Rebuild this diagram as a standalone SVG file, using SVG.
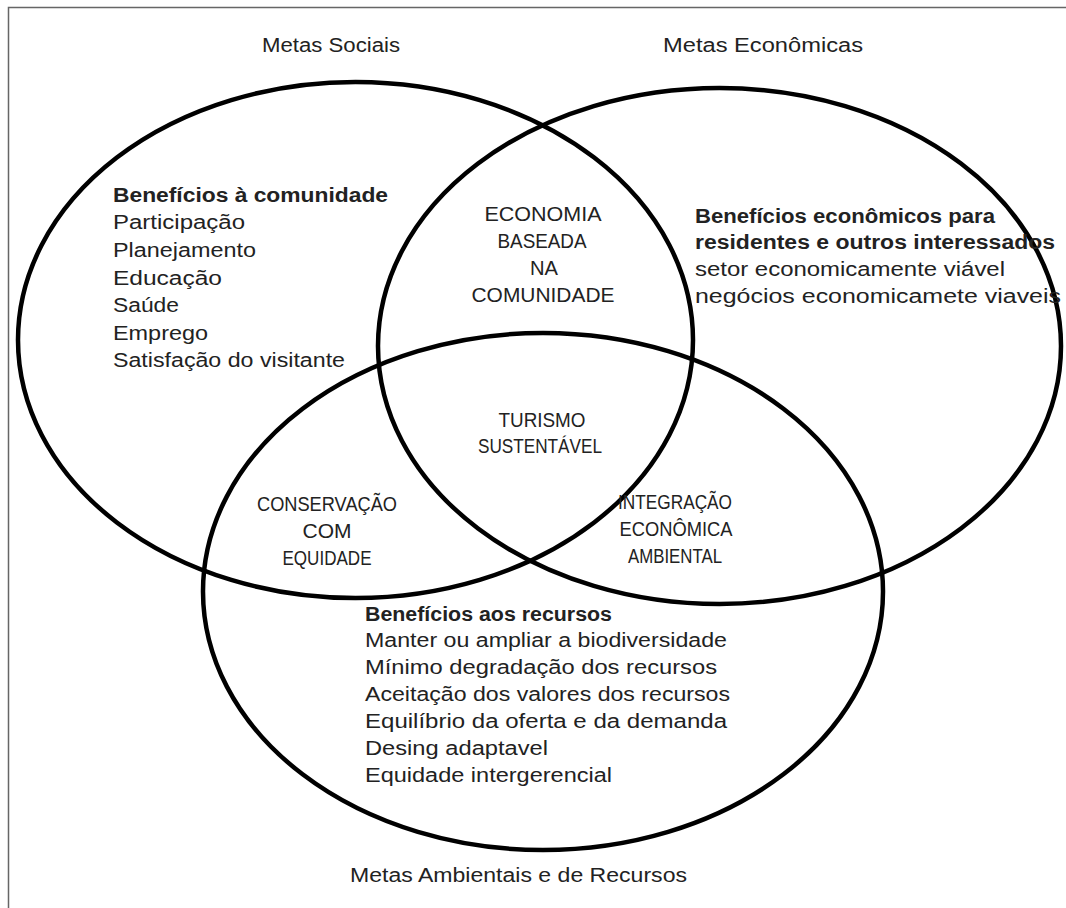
<svg xmlns="http://www.w3.org/2000/svg" width="1066" height="908" viewBox="0 0 1066 908">
<style>
.ring{fill:none;stroke:#000;stroke-width:4.5}
.t{font-family:"Liberation Sans",Arial,sans-serif;font-size:20px;fill:#222}
.b{font-weight:bold}
.c{text-anchor:middle;font-size:21px}
</style>
<rect x="8.5" y="7.5" width="1075" height="915" fill="#fff" stroke="#666" stroke-width="1.5"/>
<g id="social">
<ellipse class="ring" cx="355.5" cy="340" rx="337.5" ry="258"/>
<text class="t" x="262" y="52" textLength="138" lengthAdjust="spacingAndGlyphs">Metas Sociais</text>
<text class="t b" x="113" y="202" textLength="275" lengthAdjust="spacingAndGlyphs">Benefícios à comunidade</text>
<text class="t" x="113" y="229" textLength="132" lengthAdjust="spacingAndGlyphs">Participação</text>
<text class="t" x="113" y="257" textLength="143" lengthAdjust="spacingAndGlyphs">Planejamento</text>
<text class="t" x="113" y="285" textLength="109" lengthAdjust="spacingAndGlyphs">Educação</text>
<text class="t" x="113" y="312" textLength="66" lengthAdjust="spacingAndGlyphs">Saúde</text>
<text class="t" x="113" y="340" textLength="95" lengthAdjust="spacingAndGlyphs">Emprego</text>
<text class="t" x="113" y="367" textLength="232" lengthAdjust="spacingAndGlyphs">Satisfação do visitante</text>
</g>
<g id="economic">
<ellipse class="ring" cx="719.5" cy="346" rx="341.5" ry="258"/>
<text class="t" x="663" y="52" textLength="200" lengthAdjust="spacingAndGlyphs">Metas Econômicas</text>
<text class="t b" x="695" y="223" textLength="300" lengthAdjust="spacingAndGlyphs">Benefícios econômicos para</text>
<text class="t b" x="695" y="249" textLength="360" lengthAdjust="spacingAndGlyphs">residentes e outros interessados</text>
<text class="t" x="695" y="276" textLength="310" lengthAdjust="spacingAndGlyphs">setor economicamente viável</text>
<text class="t" x="695" y="303" textLength="366" lengthAdjust="spacingAndGlyphs">negócios economicamete viaveis</text>
</g>
<g id="environmental">
<ellipse class="ring" cx="543" cy="591.5" rx="340" ry="258.5"/>
<text class="t" x="350" y="882" textLength="337" lengthAdjust="spacingAndGlyphs">Metas Ambientais e de Recursos</text>
<text class="t b" x="365" y="621" textLength="247" lengthAdjust="spacingAndGlyphs">Benefícios aos recursos</text>
<text class="t" x="365" y="647" textLength="362" lengthAdjust="spacingAndGlyphs">Manter ou ampliar a biodiversidade</text>
<text class="t" x="365" y="674" textLength="352" lengthAdjust="spacingAndGlyphs">Mínimo degradação dos recursos</text>
<text class="t" x="365" y="701" textLength="365" lengthAdjust="spacingAndGlyphs">Aceitação dos valores dos recursos</text>
<text class="t" x="365" y="728" textLength="362" lengthAdjust="spacingAndGlyphs">Equilíbrio da oferta e da demanda</text>
<text class="t" x="365" y="755" textLength="183" lengthAdjust="spacingAndGlyphs">Desing adaptavel</text>
<text class="t" x="365" y="782" textLength="247" lengthAdjust="spacingAndGlyphs">Equidade intergerencial</text>
</g>
<g id="social-economic">
<text class="t c" x="543" y="221" textLength="117" lengthAdjust="spacingAndGlyphs">ECONOMIA</text>
<text class="t c" x="542" y="248" textLength="89" lengthAdjust="spacingAndGlyphs">BASEADA</text>
<text class="t c" x="544" y="275" textLength="28" lengthAdjust="spacingAndGlyphs">NA</text>
<text class="t c" x="543" y="302" textLength="143" lengthAdjust="spacingAndGlyphs">COMUNIDADE</text>
</g>
<g id="center">
<text class="t c" x="542" y="427" textLength="87" lengthAdjust="spacingAndGlyphs">TURISMO</text>
<text class="t c" x="540" y="453" textLength="124" lengthAdjust="spacingAndGlyphs">SUSTENTÁVEL</text>
</g>
<g id="social-environmental">
<text class="t c" x="327" y="511" textLength="140" lengthAdjust="spacingAndGlyphs">CONSERVAÇÃO</text>
<text class="t c" x="327" y="538" textLength="49" lengthAdjust="spacingAndGlyphs">COM</text>
<text class="t c" x="327" y="565" textLength="89" lengthAdjust="spacingAndGlyphs">EQUIDADE</text>
</g>
<g id="economic-environmental">
<text class="t c" x="675" y="509" textLength="114" lengthAdjust="spacingAndGlyphs">INTEGRAÇÃO</text>
<text class="t c" x="676" y="536" textLength="113" lengthAdjust="spacingAndGlyphs">ECONÔMICA</text>
<text class="t c" x="675" y="563" textLength="94" lengthAdjust="spacingAndGlyphs">AMBIENTAL</text>
</g>
</svg>
